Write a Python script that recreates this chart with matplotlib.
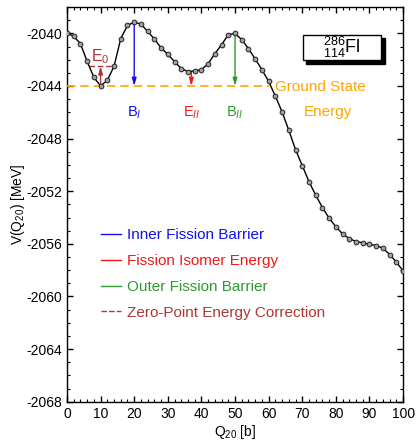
import matplotlib
matplotlib.use("Agg")
import matplotlib.pyplot as plt
from matplotlib.ticker import MultipleLocator
from matplotlib.lines import Line2D

plt.rcParams['font.family'] = ['Liberation Sans', 'DejaVu Sans']
plt.rcParams['mathtext.fontset'] = 'custom'
plt.rcParams['mathtext.rm'] = 'Liberation Sans'
plt.rcParams['mathtext.it'] = 'Liberation Sans:italic'
plt.rcParams['axes.unicode_minus'] = False

q20 = [0, 2, 4, 6, 8, 10, 12, 14, 16, 18, 20, 22, 24, 26, 28, 30, 32, 34, 36, 38,
       40, 42, 44, 46, 48, 50, 52, 54, 56, 58, 60, 62, 64, 66, 68, 70, 72, 74, 76, 78,
       80, 82, 84, 86, 88, 90, 92, 94, 96, 98, 100]
energy = [-2039.97, -2040.23, -2040.78, -2042.13, -2043.34, -2044.0, -2043.57, -2042.5,
          -2040.4, -2039.4, -2039.14, -2039.3, -2039.85, -2040.43, -2041.1, -2041.6,
          -2042.15, -2042.68, -2042.9, -2042.86, -2042.76, -2042.3, -2041.54, -2040.86,
          -2040.1, -2040.0, -2040.48, -2041.16, -2041.95, -2042.76, -2043.65, -2044.78,
          -2045.97, -2047.37, -2048.84, -2050.05, -2051.27, -2052.3, -2053.24, -2054.05,
          -2054.7, -2055.24, -2055.6, -2055.82, -2055.92, -2056.03, -2056.13, -2056.33,
          -2056.81, -2057.39, -2058.05]

ground_state = -2044.0
zero_point = -2042.5
inner_barrier_q, inner_barrier_e = 20, -2039.14
isomer_q, isomer_e = 37, -2042.95
outer_barrier_q, outer_barrier_e = 50, -2040.0
gs_q = 10

legend_labels = ["Inner Fission Barrier", "Fission Isomer Energy",
                 "Outer Fission Barrier", "Zero-Point Energy Correction"]

c_blue = '#1010F0'
c_red = '#F01818'
c_green = '#2E9A2E'
c_brown = '#B03535'
c_orange = '#FFA500'

fig = plt.figure(figsize=(4.16, 4.41), dpi=100)
ax = fig.add_axes([0.161, 0.089, 0.808, 0.895])

ax.plot(q20, energy, color='black', lw=1.0, marker='o', ms=3.4,
        mfc='#a0a0a0', mec='#222222', mew=0.7, zorder=5)

# ground state line
ax.plot([0, 60], [ground_state, ground_state], color=c_orange, lw=1.2,
        dashes=(5, 3), zorder=3)
ax.text(62, ground_state - 0.1, "Ground State", color=c_orange, fontsize=11,
        ha='left', va='center')
ax.text(77.5, -2045.95, "Energy", color=c_orange, fontsize=11,
        ha='center', va='center')

def arrow(x, y0, y1, color):
    ax.annotate('', xy=(x, y1), xytext=(x, y0),
                arrowprops=dict(arrowstyle='-|>,head_length=0.45,head_width=0.13',
                                color=color, lw=1.0, shrinkA=0, shrinkB=0),
                zorder=4)

arrow(inner_barrier_q, inner_barrier_e, ground_state, c_blue)
arrow(isomer_q, isomer_e, ground_state, c_red)
arrow(outer_barrier_q, outer_barrier_e, ground_state, c_green)
arrow(gs_q, ground_state, zero_point, c_brown)
ax.plot([6.5, 13.8], [zero_point, zero_point], color=c_brown, lw=1.0,
        dashes=(4, 2), zorder=3)

ax.text(9.8, -2041.75, r"E$_0$", color=c_brown, fontsize=11.5, ha='center', va='center')
ax.text(inner_barrier_q, -2046.0, r"B$_{\mathit{I}}$", color=c_blue, fontsize=10.5,
        ha='center', va='center')
ax.text(isomer_q, -2046.0, r"E$_{\mathit{II}}$", color=c_red, fontsize=10.5,
        ha='center', va='center')
ax.text(outer_barrier_q, -2046.0, r"B$_{\mathit{II}}$", color=c_green, fontsize=10.5,
        ha='center', va='center')

# nucleus label box with shadow
ax.add_patch(plt.Rectangle((71.0, -2042.3), 23.5, 1.95, facecolor='black',
                           edgecolor='black', lw=1, zorder=6))
ax.add_patch(plt.Rectangle((70.2, -2042.0), 23.2, 1.9, facecolor='white',
                           edgecolor='black', lw=1, zorder=7))
ax.text(81.8, -2041.05, r"$^{286}_{114}$Fl", fontsize=13, ha='center', va='center',
        zorder=8)

# legend
handles = [Line2D([], [], color=c_blue, lw=1.0),
           Line2D([], [], color=c_red, lw=1.0),
           Line2D([], [], color=c_green, lw=1.0),
           Line2D([], [], color=c_brown, lw=1.0, dashes=(4, 1.5))]
ax.legend(handles, legend_labels, loc='upper left', bbox_to_anchor=(0.06, 0.475),
          frameon=False, fontsize=11, handlelength=1.3, handletextpad=0.4,
          labelspacing=0.78, labelcolor=[c_blue, c_red, c_green, c_brown])

ax.set_xlim(0, 100)
ax.set_ylim(-2068, -2038)
ax.xaxis.set_major_locator(MultipleLocator(10))
ax.xaxis.set_minor_locator(MultipleLocator(2))
ax.yaxis.set_major_locator(MultipleLocator(4))
ax.yaxis.set_minor_locator(MultipleLocator(1))
ax.tick_params(which='both', direction='in', top=True, right=True, labelsize=10)
ax.tick_params(which='major', length=4, width=1)
ax.tick_params(which='minor', length=2, width=0.8)
for s in ax.spines.values():
    s.set_linewidth(1.0)

ax.set_xlabel(r"Q$_{20}$ [b]", fontsize=10, labelpad=2)
ax.set_ylabel(r"V(Q$_{20}$) [MeV]", fontsize=10, labelpad=-0.5)

fig.savefig("out.png", dpi=100)
